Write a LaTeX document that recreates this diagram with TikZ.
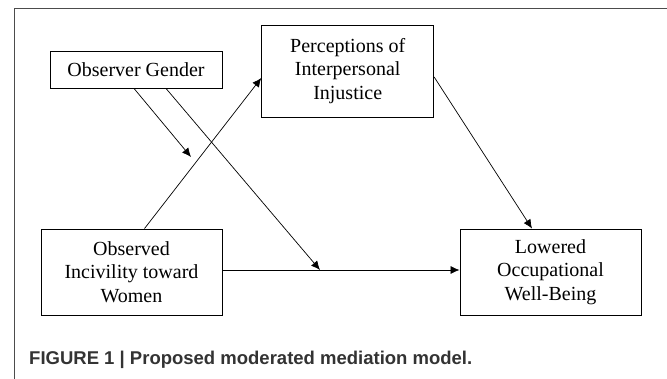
\documentclass[tikz,border=0pt]{standalone}
\usepackage{fontspec}
\setmainfont{Liberation Serif}
\newfontfamily\capfont{Liberation Sans}
\usetikzlibrary{arrows.meta,calc}
\begin{document}
\begin{tikzpicture}[x=1pt,y=-1pt,
  box/.style={draw=black,line width=0.9pt,rectangle,align=center,inner sep=0pt,font=\fontsize{20}{23.3}\selectfont},
  conn/.style={draw=black,line width=0.7pt,-{Latex[length=9pt,width=8pt]}}]
\useasboundingbox (0,0) rectangle (667,379);
\draw[line width=1pt,draw=black!70] (14,379) -- (14,9) -- (667,9);
\node[box,minimum width=172pt,minimum height=37pt] (gen) at (136,69.5) {Observer Gender};
\node[box,minimum width=172pt,minimum height=92pt] (perc) at (347.7,71) {Perceptions of\\Interpersonal\\Injustice};
\node[box,minimum width=181pt,minimum height=86pt] (obs) at (131.5,272) {Observed\\Incivility toward\\Women};
\node[box,minimum width=181pt,minimum height=86pt] (low) at (550.5,272) {Lowered\\Occupational\\Well-Being};
\coordinate (m1) at (191,157);
\coordinate (m2) at (320,270);
\draw[conn] ([xshift=13pt]obs.north) -- ([yshift=-7pt]perc.west);
\draw[conn] ([xshift=-2pt]gen.south) -- (m1);
\draw[conn] ([xshift=30pt]gen.south) -- (m2);
\draw[conn] ([yshift=2pt]obs.east) -- ([yshift=2pt]low.west);
\draw[conn] ([yshift=-6pt]perc.east) -- ([xshift=-18.5pt]low.north);
\node[anchor=base west,inner sep=0pt,font=\capfont\bfseries\fontsize{18.5}{22}\selectfont,text=black!80] (cap) at (29,365) {FIGURE 1 | Proposed moderated mediation model.};
\end{tikzpicture}
\end{document}
